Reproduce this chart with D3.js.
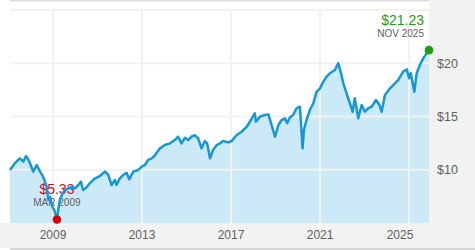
<!DOCTYPE html>
<html><head><meta charset="utf-8">
<script src="https://cdn.jsdelivr.net/npm/d3@7"></script>
<style>html,body{margin:0;padding:0;background:#fff;}svg{display:block;font-family:"Liberation Sans",Arial,sans-serif;}</style>
</head><body><svg id="c" width="475" height="250"></svg>
<script>
const dates = ["2007-01-26","2007-04-15","2007-06-05","2007-07-08","2007-09-02","2007-10-15","2007-11-21","2008-01-01","2008-02-10","2008-04-08","2008-06-02","2008-07-22","2008-09-20","2008-10-15","2008-11-14","2008-12-20","2009-01-22","2009-03-06","2009-03-27","2009-04-22","2009-06-09","2009-07-15","2009-09-09","2009-11-03","2009-12-27","2010-02-21","2010-04-04","2010-05-10","2010-06-23","2010-08-28","2010-11-21","2011-02-10","2011-05-03","2011-06-27","2011-08-21","2011-10-15","2011-11-10","2012-01-04","2012-02-28","2012-04-22","2012-06-05","2012-08-10","2012-10-29","2012-12-27","2013-02-17","2013-04-11","2013-06-09","2013-07-29","2013-10-22","2014-01-11","2014-04-04","2014-06-23","2014-08-17","2014-10-11","2014-12-05","2015-01-29","2015-03-23","2015-05-17","2015-07-11","2015-09-05","2015-10-29","2015-12-05","2016-01-22","2016-03-12","2016-05-10","2016-07-04","2016-08-24","2016-11-17","2017-01-11","2017-04-04","2017-06-23","2017-09-16","2017-11-06","2018-01-26","2018-02-13","2018-04-18","2018-07-11","2018-09-05","2018-10-29","2018-12-24","2019-02-17","2019-04-11","2019-06-05","2019-07-11","2019-08-24","2019-10-18","2019-12-12","2020-02-06","2020-03-20","2020-04-11","2020-05-24","2020-07-18","2020-09-12","2020-11-06","2021-01-01","2021-02-24","2021-04-18","2021-06-12","2021-09-02","2021-10-25","2021-12-05","2022-01-18","2022-03-12","2022-05-06","2022-06-19","2022-07-25","2022-09-20","2022-11-14","2023-01-08","2023-03-02","2023-04-26","2023-07-08","2023-09-02","2023-10-08","2023-12-02","2024-02-24","2024-05-14","2024-07-08","2024-09-27","2024-11-25","2025-01-01","2025-01-29","2025-03-28","2025-05-06","2025-06-27","2025-08-21","2025-10-15","2025-11-24"];
const values = [9.98,10.6,10.9,11.07,10.76,11.29,10.98,10.45,9.82,10.45,9.82,9.35,8.41,7.16,7.47,6.53,6.22,5.33,6.22,7.16,7.79,8.10,8.26,8.35,8.26,8.57,8.88,8.10,8.26,8.73,9.20,9.41,9.82,9.51,8.57,9.04,8.57,9.20,9.51,9.72,9.10,9.82,9.98,10.29,10.45,10.92,11.07,11.33,12.01,12.32,12.48,12.79,13.10,12.48,13.01,12.79,13.10,13.26,12.95,12.01,12.70,12.48,11.07,11.85,12.32,12.48,12.70,12.57,12.70,13.26,13.57,14.04,14.51,15.30,14.51,14.98,15.14,15.20,14.20,13.10,14.20,14.67,14.83,14.36,14.90,15.14,15.77,15.92,12.01,13.73,14.67,15.61,16.24,17.33,17.65,18.27,18.74,19.06,19.37,20.0,19.21,18.12,17.18,16.24,15.45,16.71,14.83,16.08,15.45,15.77,15.92,16.55,16.08,15.45,17.02,17.65,18.12,18.43,19.21,19.43,18.59,19.06,17.33,19.06,19.84,20.46,20.93,21.23];
const xTickYears = [2009, 2013, 2017, 2021, 2025];
const gridValues = [10, 15, 20, 25];
const yLabelValues = [10, 15, 20];
const minLabel = {value: "$5.33", date: "MAR 2009"};
const lastLabel = {value: "$21.23", date: "NOV 2025"};

const parse = d3.timeParse("%Y-%m-%d");
const data = dates.map((d, i) => ({date: parse(d), value: values[i]}));

const W = 475, H = 250;
const L = 10, R = 429, T = 10, B = 223;
const svg = d3.select("#c");

const x = d3.scaleTime().domain(d3.extent(data, d => d.date)).range([L, R]);
const y = d3.scaleLinear().domain([5, 25]).range([B, T]);

// panels
svg.append("rect").attr("x", 0).attr("y", B).attr("width", W).attr("height", 248 - B).attr("fill", "#f2f2f2");
svg.append("rect").attr("x", R).attr("y", 0).attr("width", W - R).attr("height", 248).attr("fill", "#f2f2f2");
svg.append("rect").attr("x", L).attr("y", 248).attr("width", W - L).attr("height", 2).attr("fill", "#d6d6d6");
svg.append("rect").attr("x", L).attr("y", 0).attr("width", R - L).attr("height", 1.5).attr("fill", "#dcdcdc");

// area
const area = d3.area().x(d => x(d.date)).y0(B).y1(d => y(d.value));
svg.append("path").datum(data).attr("d", area).attr("fill", "#cce9f7");

// grid
const xTicks = xTickYears.map(yr => new Date(yr, 0, 1));
svg.append("g").selectAll("line").data(gridValues).join("line")
  .attr("x1", L).attr("x2", R).attr("y1", d => y(d)).attr("y2", d => y(d))
  .attr("stroke", "#f2f2f2").attr("stroke-width", 2);
svg.append("g").selectAll("line").data(xTicks).join("line")
  .attr("x1", d => x(d)).attr("x2", d => x(d)).attr("y1", T - 1).attr("y2", B)
  .attr("stroke", "#f2f2f2").attr("stroke-width", 2);

// axes labels
svg.append("g").selectAll("text").data(yLabelValues).join("text")
  .attr("x", 437).attr("y", d => y(d)).attr("dy", "0.36em")
  .attr("font-size", 12.5).attr("fill", "#5f5f5f").text(d => "$" + d);
svg.append("g").selectAll("text").data(xTicks).join("text")
  .attr("x", d => Math.min(x(d), R - 29)).attr("y", 238.5).attr("text-anchor", "middle")
  .attr("font-size", 12).attr("fill", "#5f5f5f").text(d => d3.timeFormat("%Y")(d));

// annotations text (under the line)
const minD = data.reduce((a, b) => b.value < a.value ? b : a);
const lastD = data[data.length - 1];
const mx = x(minD.date), my = y(minD.value);
const lx = x(lastD.date), ly = y(lastD.value);
svg.append("text").attr("x", mx).attr("y", my - 25.5).attr("text-anchor", "middle")
  .attr("font-size", 14).attr("fill", "#dd0016").text(minLabel.value);
svg.append("text").attr("x", mx).attr("y", my - 13.5).attr("text-anchor", "middle")
  .attr("font-size", 10).attr("fill", "#606060").text(minLabel.date);
svg.append("text").attr("x", lx - 5).attr("y", ly - 25).attr("text-anchor", "end")
  .attr("font-size", 14).attr("fill", "#1f9e12").text(lastLabel.value);
svg.append("text").attr("x", lx - 5).attr("y", ly - 13).attr("text-anchor", "end")
  .attr("font-size", 10).attr("fill", "#606060").text(lastLabel.date);

// line
const line = d3.line().x(d => x(d.date)).y(d => y(d.value));
svg.append("path").datum(data).attr("d", line).attr("fill", "none")
  .attr("stroke", "#1597d8").attr("stroke-width", 2.5).attr("stroke-linejoin", "round");

svg.append("circle").attr("cx", mx).attr("cy", my).attr("r", 4.3).attr("fill", "#d40010");
svg.append("circle").attr("cx", lx).attr("cy", ly).attr("r", 4.3).attr("fill", "#1f9e12");
</script></body></html>
